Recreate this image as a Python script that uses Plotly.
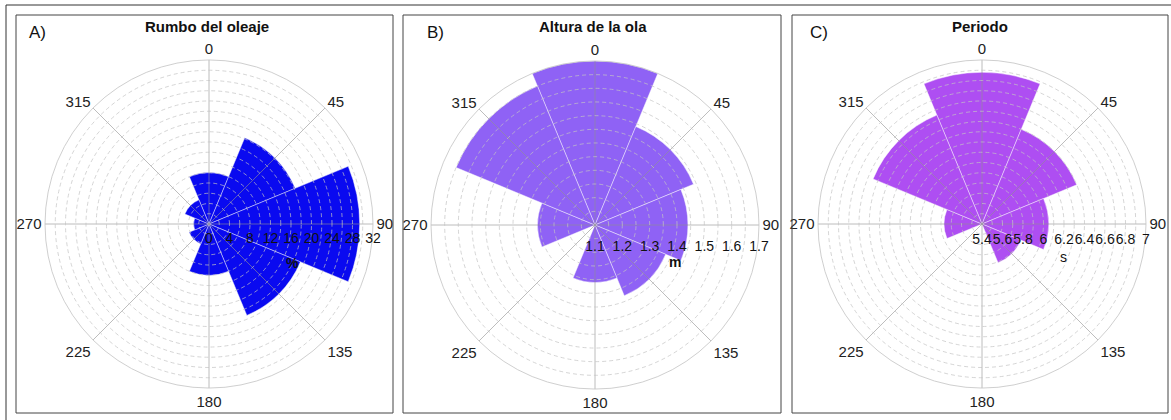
import plotly.graph_objects as go

# ---------------- data ----------------
directions = [0, 45, 90, 135, 180, 225, 270, 315]
angle_labels = ["0", "45", "90", "135", "180", "225", "270", "315"]

rumbo_freq = [10.0, 18.2, 29.4, 19.3, 10.0, 4.2, 3.0, 5.1]
altura_m = [1.70, 1.49, 1.44, 1.38, 1.31, 1.10, 1.31, 1.65]
periodo_s = [6.88, 6.40, 6.05, 5.81, 5.40, 5.40, 5.77, 6.55]

rumbo_ticks = [0, 4, 8, 12, 16, 20, 24, 28, 32]
altura_ticks = [1.1, 1.2, 1.3, 1.4, 1.5, 1.6, 1.7]
periodo_ticks = [5.4, 5.6, 5.8, 6, 6.2, 6.4, 6.6, 6.8, 7]

titles = ["Rumbo del oleaje", "Altura de la ola", "Periodo"]
panel_tags = ["A)", "B)", "C)"]
units = ["%", "m", "s"]
colors = ["#0A0AF0", "#8F62F5", "#AE4EF2"]

# ---------------- layout helpers ----------------
W, H = 1171, 420
FONT = "Arial, Liberation Sans, sans-serif"
centers = [(209, 224), (595, 225), (982, 224)]
R = 164
boxes = [(16, 393), (403, 781), (792, 1168)]
box_y = (15, 413)
unit_pos = [(292, 263), (675, 262), (1063, 257)]
tag_x = [27, 425, 808]
tick_offsets = [2, 9, 3]


def px_x(x):
    return x / W


def px_y(y):
    return 1 - y / H


def with_minor(ticks):
    vals, text = [], []
    for i, t in enumerate(ticks):
        vals.append(t)
        text.append(f"{t:g}")
        if i < len(ticks) - 1:
            vals.append(round((t + ticks[i + 1]) / 2, 4))
            text.append("")
    return vals, text


series = [rumbo_freq, altura_m, periodo_s]
tick_sets = [rumbo_ticks, altura_ticks, periodo_ticks]

fig = go.Figure()
layout_polars = {}
annotations = []
shapes = []

for i in range(3):
    vals = series[i]
    ticks = tick_sets[i]
    lo, hi = ticks[0], ticks[-1]
    cx, cy = centers[i]
    dom = dict(x=[px_x(cx - R), px_x(cx + R)], y=[px_y(cy + R), px_y(cy - R)])
    bar_id = "polar" if i == 0 else f"polar{i + 1}"
    ov_id = f"polar{i + 4}"

    fig.add_trace(go.Barpolar(
        r=[v - lo for v in vals], base=lo, theta=directions, width=45,
        marker=dict(color=colors[i], line=dict(color="rgba(255,255,255,0.55)", width=0.8)),
        subplot=bar_id, showlegend=False, hoverinfo="skip",
    ))
    fig.add_trace(go.Scatterpolar(
        r=[lo], theta=[directions[0]], mode="markers",
        marker=dict(opacity=0, size=1), subplot=ov_id,
        showlegend=False, hoverinfo="skip",
    ))

    layout_polars[bar_id] = dict(
        domain=dom, bgcolor="rgba(0,0,0,0)",
        angularaxis=dict(rotation=90, direction="clockwise", showgrid=False,
                         showticklabels=False, showline=False, ticks=""),
        radialaxis=dict(range=[lo, hi], autorange=False, showgrid=False,
                        showticklabels=False, showline=False, ticks=""),
    )
    gv, gt = with_minor(ticks)
    layout_polars[ov_id] = dict(
        domain=dom, bgcolor="rgba(0,0,0,0)",
        angularaxis=dict(rotation=90, direction="clockwise",
                         tickmode="array", tickvals=directions, ticktext=angle_labels,
                         showgrid=True, gridcolor="rgba(145,145,145,0.6)", gridwidth=1,
                         showline=True, linecolor="rgba(195,195,195,0.8)", linewidth=1,
                         ticks="", tickfont=dict(family=FONT, size=15, color="#222")),
        radialaxis=dict(range=[lo, hi], autorange=False, angle=0, side="clockwise",
                        tickmode="array", tickvals=gv, ticktext=gt, tickangle=0,
                        showline=False, showgrid=True,
                        gridcolor="rgba(195,195,195,0.7)", griddash="4px,3px", gridwidth=1,
                        ticks="outside", ticklen=tick_offsets[i], tickcolor="rgba(0,0,0,0)",
                        tickfont=dict(family=FONT, size=14, color="#111")),
    )

    # panel box
    x0, x1 = boxes[i]
    shapes.append(dict(type="rect", xref="paper", yref="paper",
                       x0=px_x(x0), x1=px_x(x1), y0=px_y(box_y[1]), y1=px_y(box_y[0]),
                       line=dict(color="#444", width=1), fillcolor="rgba(0,0,0,0)"))
    # title
    annotations.append(dict(text=f"<b>{titles[i]}</b>", x=px_x(cx - 2), y=px_y(27),
                            xref="paper", yref="paper", showarrow=False,
                            xanchor="center", yanchor="middle",
                            font=dict(family=FONT, size=15, color="#111")))
    annotations.append(dict(text=panel_tags[i], x=px_x(tag_x[i]), y=px_y(33),
                            xref="paper", yref="paper", showarrow=False,
                            xanchor="left", yanchor="middle",
                            font=dict(family=FONT, size=17, color="#111")))
    ux, uy = unit_pos[i]
    annotations.append(dict(text=(f"<b>{units[i]}</b>" if i < 2 else units[i]),
                            x=px_x(ux), y=px_y(uy),
                            xref="paper", yref="paper", showarrow=False,
                            xanchor="center", yanchor="middle",
                            font=dict(family=FONT, size=14, color="#111")))

# outer frame lines (top and left)
shapes.append(dict(type="line", xref="paper", yref="paper",
                   x0=px_x(6), x1=1, y0=px_y(5), y1=px_y(5), line=dict(color="#333", width=1)))
shapes.append(dict(type="line", xref="paper", yref="paper",
                   x0=px_x(6), x1=px_x(6), y0=0, y1=px_y(5), line=dict(color="#333", width=1)))

fig.update_layout(
    width=W, height=H, margin=dict(l=0, r=0, t=0, b=0),
    paper_bgcolor="white", plot_bgcolor="white",
    showlegend=False, annotations=annotations, shapes=shapes,
    font=dict(family=FONT),
    **layout_polars,
)

fig.write_html("out.html", config={"displayModeBar": False},
               post_script="document.body.style.margin='0px';")
